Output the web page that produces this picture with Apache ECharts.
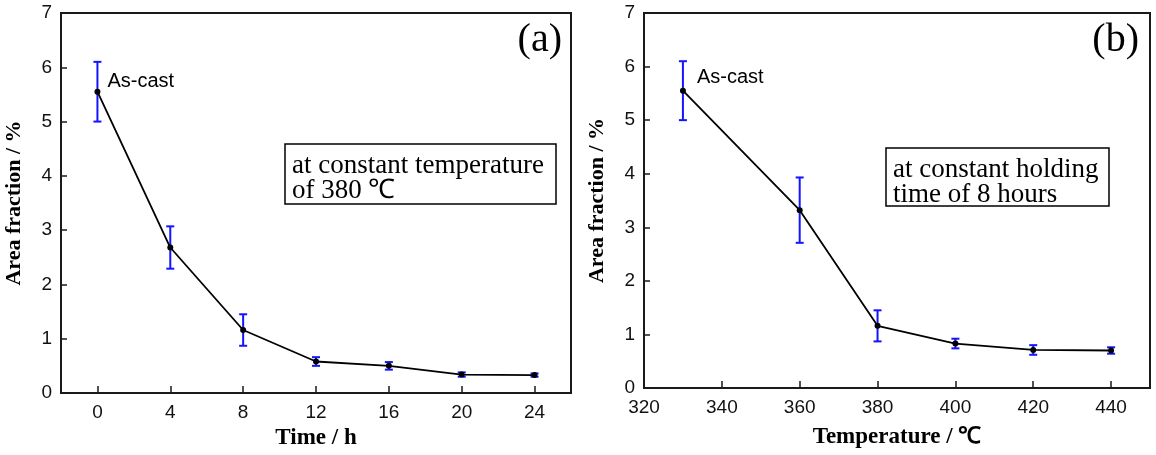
<!DOCTYPE html>
<html>
<head>
<meta charset="utf-8">
<script src="https://cdn.jsdelivr.net/npm/echarts@6/dist/echarts.min.js"></script>
<style>
  html, body { margin: 0; padding: 0; background: #fff; }
  #chart { width: 1156px; height: 455px; }
</style>
</head>
<body>
<div id="chart"></div>
<script>
// panel (a): area fraction vs holding time at 380 C
const timeH = [0, 4, 8, 12, 16, 20, 24];
const areaA = [5.55, 2.68, 1.16, 0.58, 0.50, 0.34, 0.33];
const errA = [0.55, 0.39, 0.29, 0.08, 0.07, 0.04, 0.03];
const timeTicks = [0, 4, 8, 12, 16, 20, 24];

// panel (b): area fraction vs temperature, 8 h hold (330 = as-cast)
const tempC = [330, 360, 380, 400, 420, 440];
const areaB = [5.55, 3.32, 1.16, 0.83, 0.71, 0.70];
const errB = [0.55, 0.61, 0.29, 0.09, 0.09, 0.06];
const tempTicks = [320, 340, 360, 380, 400, 420, 440];

const axisColor = '#1a1a1a';
const barColor = '#1414ff';
const sans = 'Liberation Sans';
const serif = 'Liberation Serif';

function errorBar(params, api) {
  let x = api.value(0), y = api.value(1), e = api.value(2);
  let top = api.coord([x, y + e]);
  let bot = api.coord([x, y - e]);
  let w = 4;
  let st = { stroke: barColor, lineWidth: 2 };
  return {
    type: 'group',
    children: [
      { type: 'line', shape: { x1: top[0], y1: top[1], x2: bot[0], y2: bot[1] }, style: st },
      { type: 'line', shape: { x1: top[0] - w, y1: top[1], x2: top[0] + w, y2: top[1] }, style: st },
      { type: 'line', shape: { x1: bot[0] - w, y1: bot[1], x2: bot[0] + w, y2: bot[1] }, style: st }
    ]
  };
}

function yAxisOf(gridIndex) {
  return {
    type: 'value', gridIndex: gridIndex, min: 0, max: 7, interval: 1,
    name: 'Area fraction / %', nameLocation: 'middle', nameGap: 36,
    nameTextStyle: { fontFamily: serif, fontWeight: 'bold', fontSize: 22, color: '#000' },
    axisLine: { show: true, onZero: false, lineStyle: { color: axisColor, width: 2 } },
    axisTick: { show: true, inside: true, length: 6, lineStyle: { color: axisColor, width: 1.5 } },
    axisLabel: { fontFamily: sans, fontSize: 19, color: '#111', margin: 9 },
    splitLine: { show: false }
  };
}

function pointSeries(xi, data, labelPos) {
  return {
    type: 'line', xAxisIndex: xi, yAxisIndex: xi, z: 5,
    symbol: 'circle', symbolSize: 6,
    itemStyle: { color: '#000' },
    lineStyle: { color: '#000', width: 1.8 },
    data: data.map(function (d, i) {
      if (i === 0) {
        return {
          value: d,
          label: {
            show: true, formatter: 'As-cast', position: labelPos,
            align: 'left', verticalAlign: 'middle',
            fontFamily: sans, fontSize: 20, color: '#000'
          }
        };
      }
      return d;
    })
  };
}

function noteBox(x, y, w, h, text) {
  return {
    type: 'group',
    children: [
      { type: 'rect', shape: { x: x, y: y, width: w, height: h },
        style: { fill: '#fff', stroke: '#000', lineWidth: 1.5 } },
      { type: 'text', x: x + 7, y: y + 9,
        style: { text: text, font: '27px "Liberation Serif"', lineHeight: 25, fill: '#000' } }
    ]
  };
}

let chart = echarts.init(document.getElementById('chart'), null, { renderer: 'canvas' });
let option = {
  animation: false,
  backgroundColor: '#fff',
  grid: [
    { left: 61, top: 13, width: 510, height: 380, show: true, borderColor: axisColor, borderWidth: 2, backgroundColor: 'transparent' },
    { left: 644, top: 13, width: 506, height: 375, show: true, borderColor: axisColor, borderWidth: 2, backgroundColor: 'transparent' }
  ],
  xAxis: [
    {
      type: 'value', gridIndex: 0, min: -2, max: 26,
      name: 'Time / h', nameLocation: 'middle', nameGap: 33,
      nameTextStyle: { fontFamily: serif, fontWeight: 'bold', fontSize: 23, color: '#000', verticalAlign: 'top' },
      axisLine: { show: true, onZero: false, lineStyle: { color: axisColor, width: 2 } },
      axisTick: { show: true, inside: true, length: 7, customValues: timeTicks, lineStyle: { color: axisColor, width: 1.5 } },
      axisLabel: { customValues: timeTicks, fontFamily: sans, fontSize: 19, color: '#111', margin: 10 },
      splitLine: { show: false }
    },
    {
      type: 'value', gridIndex: 1, min: 320, max: 450,
      name: 'Temperature / ℃', nameLocation: 'middle', nameGap: 38,
      nameTextStyle: { fontFamily: serif, fontWeight: 'bold', fontSize: 23, color: '#000', verticalAlign: 'top' },
      axisLine: { show: true, onZero: false, lineStyle: { color: axisColor, width: 2 } },
      axisTick: { show: true, inside: true, length: 7, customValues: tempTicks, lineStyle: { color: axisColor, width: 1.5 } },
      axisLabel: { customValues: tempTicks, fontFamily: sans, fontSize: 19, color: '#111', margin: 10 },
      splitLine: { show: false }
    }
  ],
  yAxis: [yAxisOf(0), yAxisOf(1)],
  series: [
    {
      type: 'custom', xAxisIndex: 0, yAxisIndex: 0, z: 3,
      renderItem: errorBar,
      data: areaA.map(function (v, i) { return [timeH[i], v, errA[i]]; })
    },
    pointSeries(0, areaA.map(function (v, i) { return [timeH[i], v]; }), [13, -7]),
    {
      type: 'custom', xAxisIndex: 1, yAxisIndex: 1, z: 3,
      renderItem: errorBar,
      data: areaB.map(function (v, i) { return [tempC[i], v, errB[i]]; })
    },
    pointSeries(1, areaB.map(function (v, i) { return [tempC[i], v]; }), [17, -10])
  ],
  graphic: [
    noteBox(285, 144, 271, 60, 'at constant temperature\nof 380 ℃'),
    noteBox(886, 148, 223, 58, 'at constant holding\ntime of 8 hours'),
    { type: 'text', x: 562, y: 40, style: { text: '(a)', font: '40px "Liberation Serif"', fill: '#000', align: 'right', verticalAlign: 'middle' } },
    { type: 'text', x: 1139, y: 40, style: { text: '(b)', font: '40px "Liberation Serif"', fill: '#000', align: 'right', verticalAlign: 'middle' } }
  ]
};
chart.setOption(option);
</script>
</body>
</html>
